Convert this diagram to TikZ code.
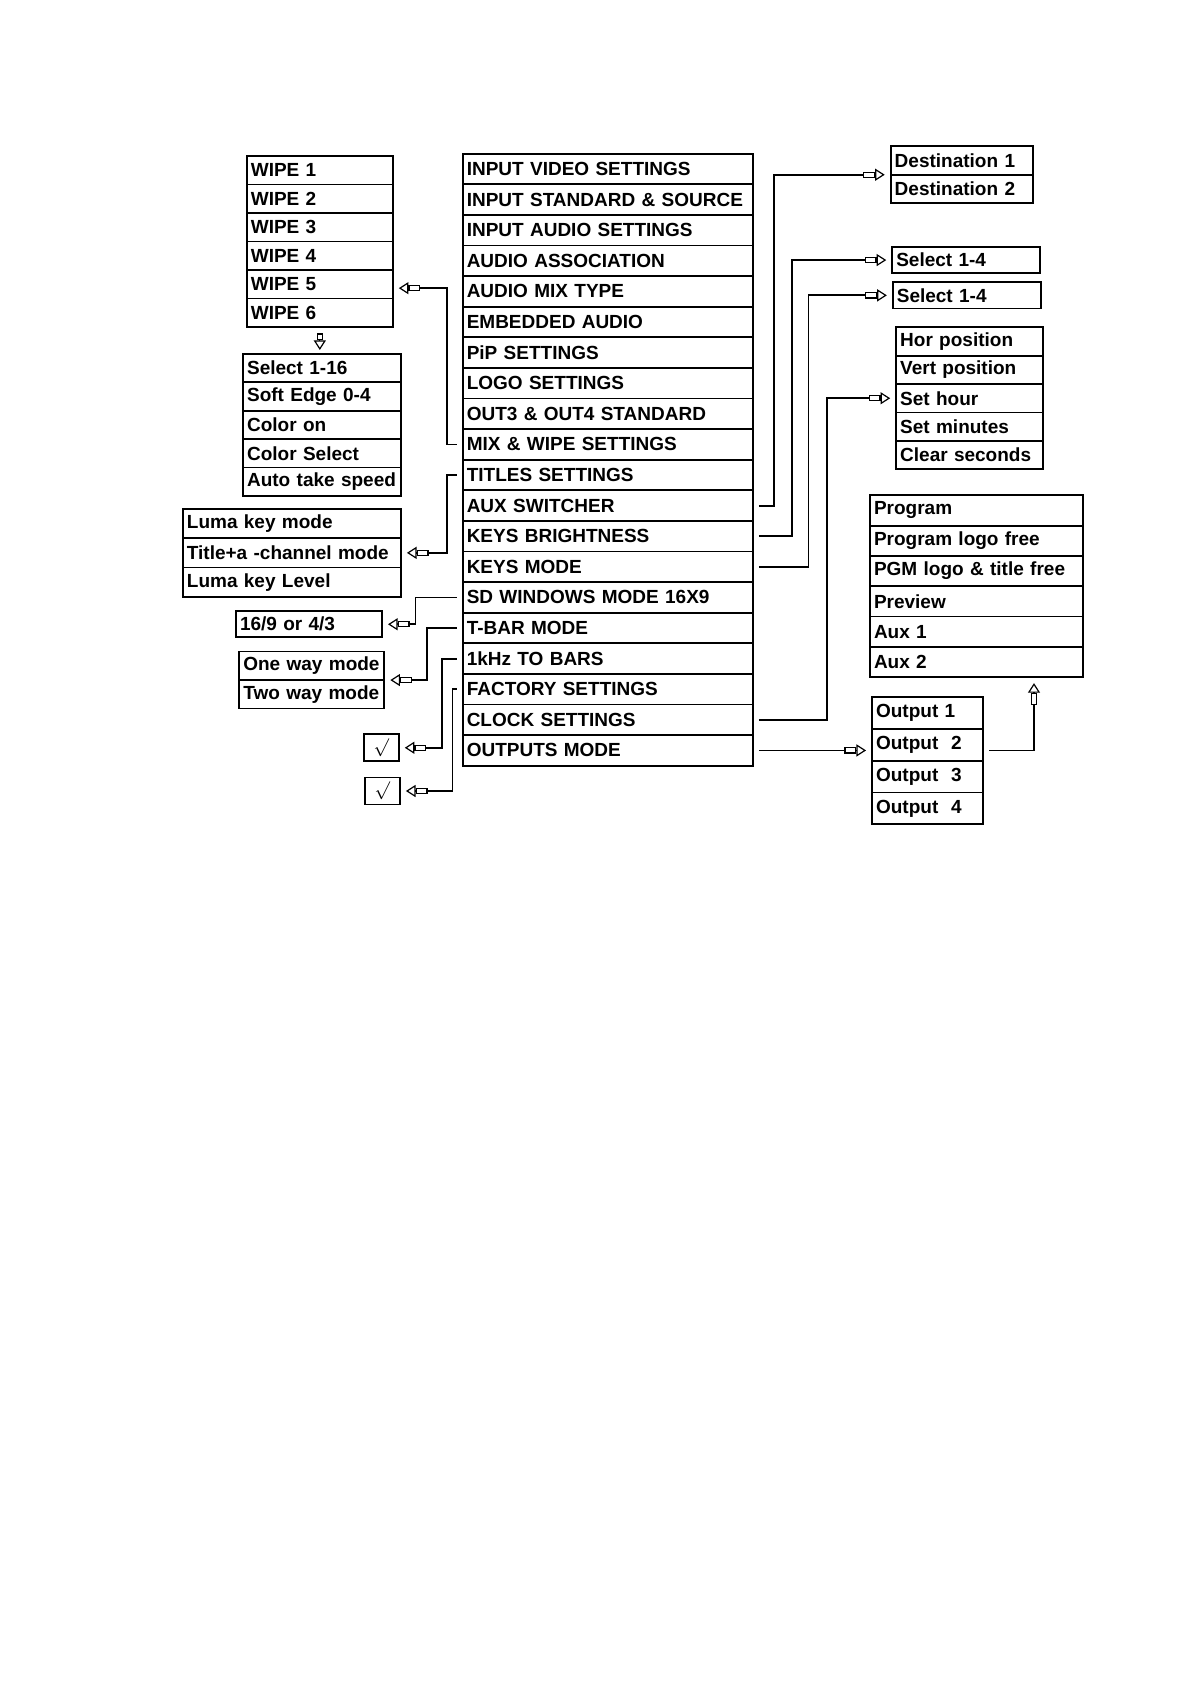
\documentclass[tikz,border=0pt]{standalone}
\usepackage{fontspec}
\setmainfont{Liberation Sans}
\usepackage{tikz}
\usetikzlibrary{arrows.meta, positioning}

\begin{document}
\begin{tikzpicture}[
            cell/.style={draw=black, line width=0.9pt, inner xsep=2pt, inner ysep=0pt, outer sep=0pt, align=left, font=\fontsize{9.5}{11}\selectfont\bfseries},
            mainrow/.style={cell, text width=141pt, minimum height=15.3pt},
            wiperow/.style={cell, text width=69pt, minimum height=14.25pt},
            selrow/.style={cell, text width=75pt, minimum height=14.2pt},
            lumarow/.style={cell, text width=105pt, minimum height=14.65pt},
            wayrow/.style={cell, text width=68.5pt, minimum height=14.25pt},
            checkbox/.style={cell, text width=13.5pt, align=center, minimum height=13.5pt},
            destrow/.style={cell, text width=67pt, minimum height=14.25pt},
            chanrow/.style={cell, text width=70pt, minimum height=13.2pt},
            clockrow/.style={cell, text width=69.5pt, minimum height=14.2pt},
            progrow/.style={cell, text width=102.5pt, minimum height=15.15pt},
            outrow/.style={cell, text width=51.5pt, minimum height=15.9pt},
            link/.style={line width=0.9pt, shorten <=3pt},
            harr/.style={-{Rectangle[fill=white, length=#1, width=3.2pt, line width=0.6pt, sep=0pt] Triangle[fill=white, length=4.8pt, width=6pt, line width=0.6pt]}, shorten >=3pt},
            harr/.default=6pt
        ]
            \useasboundingbox (0,0) rectangle (20.93,-29.61);

            % Main menu column
            \node[mainrow] (ivs) at (10.68, -2.97) {INPUT VIDEO SETTINGS};
            \node[mainrow, below=0pt of ivs] (iss) {INPUT STANDARD \& SOURCE};
            \node[mainrow, below=0pt of iss] (ias) {INPUT AUDIO SETTINGS};
            \node[mainrow, below=0pt of ias] (aas) {AUDIO ASSOCIATION};
            \node[mainrow, below=0pt of aas] (amt) {AUDIO MIX TYPE};
            \node[mainrow, below=0pt of amt] (emb) {EMBEDDED AUDIO};
            \node[mainrow, below=0pt of emb] (pip) {PiP SETTINGS};
            \node[mainrow, below=0pt of pip] (logo) {LOGO SETTINGS};
            \node[mainrow, below=0pt of logo] (out34) {OUT3 \& OUT4 STANDARD};
            \node[mainrow, below=0pt of out34] (mix) {MIX \& WIPE SETTINGS};
            \node[mainrow, below=0pt of mix] (tit) {TITLES SETTINGS};
            \node[mainrow, below=0pt of tit] (aux) {AUX SWITCHER};
            \node[mainrow, below=0pt of aux] (kbr) {KEYS BRIGHTNESS};
            \node[mainrow, below=0pt of kbr] (kmd) {KEYS MODE};
            \node[mainrow, below=0pt of kmd] (sdw) {SD WINDOWS MODE 16X9};
            \node[mainrow, below=0pt of sdw] (tbar) {T-BAR MODE};
            \node[mainrow, below=0pt of tbar] (khz) {1kHz TO BARS};
            \node[mainrow, below=0pt of khz] (fac) {FACTORY SETTINGS};
            \node[mainrow, below=0pt of fac] (clk) {CLOCK SETTINGS};
            \node[mainrow, below=0pt of clk] (outm) {OUTPUTS MODE};

            % Left side (wipes, keys, modes)
            \node[wiperow] (w1) at (5.62, -2.99) {WIPE 1};
            \node[wiperow, below=0pt of w1] (w2) {WIPE 2};
            \node[wiperow, below=0pt of w2] (w3) {WIPE 3};
            \node[wiperow, below=0pt of w3] (w4) {WIPE 4};
            \node[wiperow, below=0pt of w4] (w5) {WIPE 5};
            \node[wiperow, below=0pt of w5] (w6) {WIPE 6};

            \node[selrow] (s1) at (5.66, -6.47) {Select 1-16};
            \node[selrow, below=0pt of s1] (s2) {Soft Edge 0-4};
            \node[selrow, below=0pt of s2] (s3) {Color on};
            \node[selrow, below=0pt of s3] (s4) {Color Select};
            \node[selrow, below=0pt of s4] (s5) {Auto take speed};

            \node[lumarow] (l1) at (5.13, -9.20) {Luma key mode};
            \node[lumarow, below=0pt of l1] (l2) {Title+a -channel mode};
            \node[lumarow, below=0pt of l2] (l3) {Luma key Level};

            \node[wiperow, minimum height=13pt] (r169) at (5.43, -10.97) {16/9 or 4/3};

            \node[wayrow] (way1) at (5.48, -11.70) {One way mode};
            \node[wayrow, below=0pt of way1] (way2) {Two way mode};

            \node[checkbox] (chk1) at (6.70, -13.14) {$\surd$};
            \node[checkbox] (chk2) at (6.72, -13.90) {$\surd$};

            % Right side (destinations, clock, outputs)
            \node[destrow] (d1) at (16.90, -2.82) {Destination 1};
            \node[destrow, below=0pt of d1] (d2) {Destination 2};

            \node[chanrow] (sela) at (16.98, -4.57) {Select 1-4};
            \node[chanrow] (selb) at (16.99, -5.19) {Select 1-4};

            \node[clockrow] (c1) at (17.04, -6.00) {Hor position};
            \node[clockrow, below=0pt of c1] (c2) {Vert position};
            \node[clockrow, below=0pt of c2] (c3) {Set hour};
            \node[clockrow, below=0pt of c3] (c4) {Set minutes};
            \node[clockrow, below=0pt of c4] (c5) {Clear seconds};

            \node[progrow] (p1) at (17.16, -8.97) {Program};
            \node[progrow, below=0pt of p1] (p2) {Program logo free};
            \node[progrow, below=0pt of p2] (p3) {PGM logo \& title free};
            \node[progrow, below=0pt of p3] (p4) {Preview};
            \node[progrow, below=0pt of p4] (p5) {Aux 1};
            \node[progrow, below=0pt of p5] (p6) {Aux 2};

            \node[outrow] (o1) at (16.30, -12.53) {Output 1};
            \node[outrow, below=0pt of o1] (o2) {Output\ \ 2};
            \node[outrow, below=0pt of o2] (o3) {Output\ \ 3};
            \node[outrow, below=0pt of o3] (o4) {Output\ \ 4};

            % Left connections
            \draw[link, harr] (mix.west) -- ++(-0.28,0) |- ([yshift=-2pt]w5.east);
            \draw[harr=3.5pt, shorten <=3.5pt, shorten >=2pt] (w6.south) -- (w6.south |- s1.north);
            \draw[link, harr] (tit.west) -- ++(-0.28,0) |- (l2.east);
            \draw[link, harr] (sdw.west) -- ++(-0.83,0) |- (r169.east);
            \draw[link, harr] (tbar.west) -- ++(-0.63,0) |- (way1.south east);
            \draw[link, harr] (khz.west) -- ++(-0.37,0) |- (chk1.east);
            \draw[link, harr] (fac.west) -- ++(-0.18,0) |- (chk2.east);

            % Right connections
            \draw[link, harr] (aux.east) -- ++(0.37,0) |- (d1.south west);
            \draw[link, harr] (kbr.east) -- ++(0.69,0) |- (sela.west);
            \draw[link, harr] (kmd.east) -- ++(0.98,0) |- (selb.west);
            \draw[link, harr] (clk.east) -- ++(1.30,0) |- (c3.west);
            \draw[link, harr] (outm.east) -- (outm.east -| o1.west);
            \draw[link, harr] (o1.east |- outm.east) -| ([xshift=1.01cm]p6.south);

\end{tikzpicture}
\end{document}
